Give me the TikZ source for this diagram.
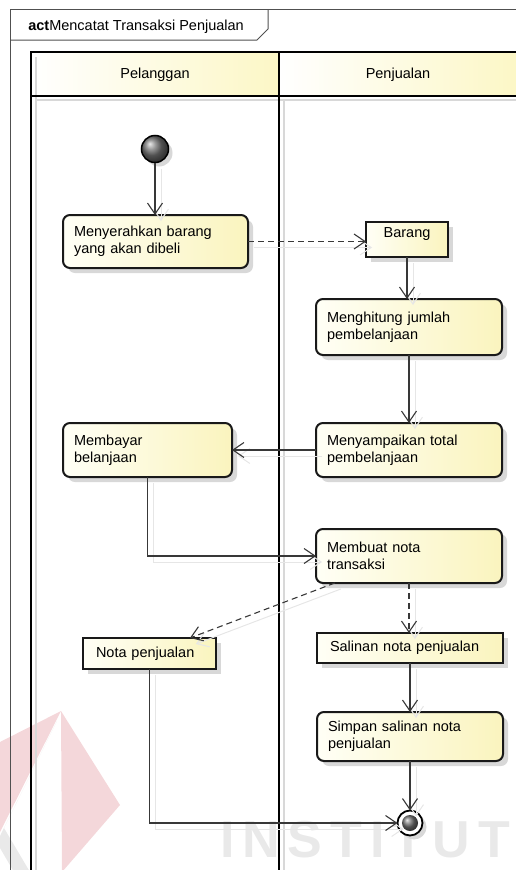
\documentclass[tikz,border=0pt]{standalone}
\usepackage{fontspec}
\setmainfont{Liberation Sans}
\usetikzlibrary{arrows.meta,shadows}

\definecolor{laneyellow}{HTML}{FCF7C6}
\definecolor{nodeyellow}{HTML}{FAF4BE}
\definecolor{nodewhite}{HTML}{FFFFF6}
\definecolor{edgegray}{HTML}{383838}
\definecolor{shadowgray}{HTML}{D8D8D8}
\definecolor{flowshadow}{HTML}{E6E6E6}
\definecolor{framegray}{HTML}{505050}
\definecolor{wmpink}{HTML}{F4D7DA}
\definecolor{wmgray}{HTML}{E9E9E9}

\begin{document}
\begin{tikzpicture}[x=1pt,y=-1pt,
  every node/.style={font=\fontsize{14.5}{17}\selectfont, outer sep=0pt},
  nodebase/.style={draw=black!90, line width=2pt, left color=nodewhite, right color=nodeyellow,
    drop shadow={shadow xshift=5pt, shadow yshift=-5pt, fill=shadowgray, opacity=1},
    anchor=north west, inner xsep=11pt, inner ysep=0pt},
  activity/.style={nodebase, rounded corners=7pt, align=left},
  objectbox/.style={nodebase, line width=2.4pt},
  flow/.style={draw=edgegray, line width=1.1pt, -{Straight Barb[length=11pt,width=15pt]},
    preaction={draw=flowshadow, line width=1pt, transform canvas={shift={(6pt,-6pt)}}}},
  objflow/.style={flow, dash pattern=on 6pt off 4pt},
  laneline/.style={line width=2.4pt, black},
  laneshadow/.style={line width=2pt, shadowgray},
  framestyle/.style={line width=1pt, framegray}
]
\useasboundingbox (0,0) rectangle (515,870);

% faint logo and lettering in the background
\fill[wmpink] (61,711) -- (120,805) -- (62,872) -- cycle;
\fill[wmpink] (0,742) -- (61,711) -- (0,832) -- cycle;
\fill[wmgray] (57,721) -- (4,828) -- (30,872) -- (14,872) -- (0,848) -- (0,836) -- cycle;
\node[anchor=base west, inner sep=0pt, text=wmgray, font=\fontsize{52}{52}\selectfont\bfseries] (wmtext) at (220,857)
  {\hbox to 290pt{I\hfil N\hfil S\hfil T\hfil I\hfil T\hfil U\hfil T}};

% diagram frame with its name tab
\draw[framestyle] (10,872) -- (10,9) -- (517,9);
\draw[framestyle] (10,40) -- (257,40) -- (268,29) -- (268,9);
\node[anchor=base west] (title) at (25,30.5) {\textbf{act}Mencatat Transaksi Penjualan};

% swimlane headers
\fill[left color=white, right color=laneyellow] (31,52) rectangle (279,96);
\fill[left color=white, right color=laneyellow] (279,52) rectangle (517,96);
\draw[laneshadow] (36,57) -- (36,872);
\draw[laneshadow] (284,100) -- (284,872);
\draw[laneshadow] (36,100) -- (517,100);
\draw[laneline] (31,872) -- (31,52) -- (517,52);
\draw[laneline] (31,96) -- (517,96);
\draw[laneline] (279,52) -- (279,872);
\node (laneA) at (155,75) {Pelanggan};
\node (laneB) at (398,75) {Penjualan};

% start and end
\node[circle, draw=black, line width=1.5pt, minimum size=27pt, inner sep=0pt, ball color=black!55,
  drop shadow={shadow xshift=4pt, shadow yshift=-4pt, fill=shadowgray, opacity=1}] (init) at (155,149) {};
\node[circle, draw=black, line width=1.8pt, minimum size=25pt, inner sep=0pt, fill=white,
  drop shadow={shadow xshift=4pt, shadow yshift=-4pt, fill=shadowgray, opacity=1}] (final) at (410,823) {};
\node[circle, minimum size=16pt, inner sep=0pt, ball color=black!55] (finaldot) at (final) {};

% actions and objects
\node[activity, text width=163pt, minimum height=53pt] (serah) at (63,215) {Menyerahkan barang\\yang akan dibeli};
\node[objectbox, minimum width=82pt, text height=15.5pt, text depth=19.5pt] (barang) at (366,222) {Barang};
\node[activity, text width=164pt, minimum height=56pt] (hitung) at (316,299) {Menghitung jumlah\\pembelanjaan};
\node[activity, text width=164pt, minimum height=54pt] (sampai) at (316,423) {Menyampaikan total\\pembelanjaan};
\node[activity, text width=147pt, minimum height=54pt] (bayar) at (63,423) {Membayar\\belanjaan};
\node[activity, text width=164pt, minimum height=54pt] (buat) at (316,529) {Membuat nota\\transaksi};
\node[objectbox, align=left, inner xsep=13pt, text width=107pt, minimum height=31pt] (nota) at (83,638) {Nota penjualan};
\node[objectbox, align=left, inner xsep=13pt, text width=160pt, minimum height=30pt] (salinan) at (317,633) {Salinan nota penjualan};
\node[activity, text width=164pt, minimum height=49pt] (simpan) at (317,712) {Simpan salinan nota\\penjualan};

% control and object flows
\draw[flow] (init) -- (init |- serah.north);
\draw[objflow] (serah.east) -- (barang.west |- serah.east);
\draw[flow] (barang.south) -- (barang.south |- hitung.north);
\draw[flow] (hitung.south) -- (hitung.south |- sampai.north);
\draw[flow] (sampai.west) -- (bayar.east |- sampai.west);
\draw[flow] (bayar.south) |- (buat.west);
\draw[objflow] (buat.200) -- (nota.21);
\draw[objflow] (buat.south) -- (buat.south |- salinan.north);
\draw[flow] (salinan.south) -- (salinan.south |- simpan.north);
\draw[flow] (simpan.south) -- (final.north);
\draw[flow] (nota.south) |- (final.west);
\end{tikzpicture}
\end{document}
